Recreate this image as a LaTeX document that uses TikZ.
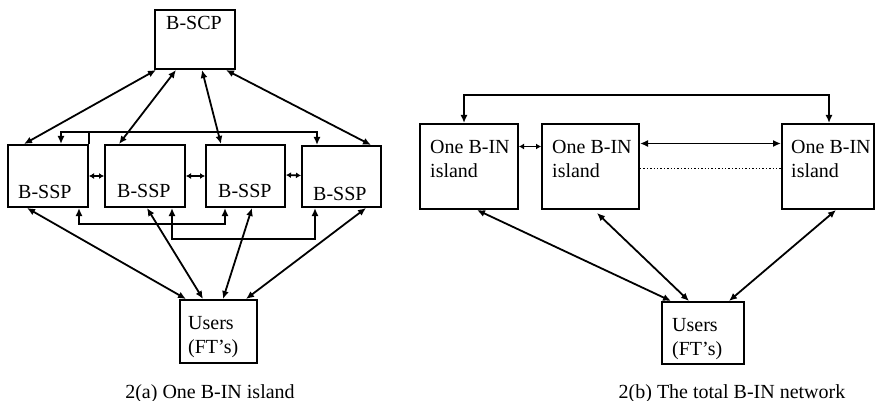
\documentclass[tikz,border=0pt]{standalone}
\usepackage{fontspec}
\setmainfont{Liberation Serif}
\usepackage{tikz}
\usetikzlibrary{positioning,arrows.meta,calc}

\begin{document}
\begin{tikzpicture}[x=1pt, y=-1pt,
  box/.style={draw, line width=2pt, inner sep=0pt},
  link/.style={line width=1.8pt, {Latex[length=8pt,width=7pt]}-{Latex[length=8pt,width=7pt]}},
  shortlink/.style={line width=1.8pt, {Latex[length=5pt,width=6pt]}-{Latex[length=5pt,width=6pt]}},
  lbl/.style={font=\fontsize{20}{23.5}\selectfont, inner sep=0pt, anchor=base west, align=left}]
  \useasboundingbox (0,0) rectangle (875,401);

  % 2(a) one island
  \node[box, minimum width=80, minimum height=59] (scp) at (195,39.5) {};
  \node[box, minimum width=80, minimum height=62] (ssp1) at (48,176) {};
  \node[box, minimum width=80, minimum height=62] (ssp2) at (145,176) {};
  \node[box, minimum width=79, minimum height=62] (ssp3) at (245.5,176) {};
  \node[box, minimum width=79, minimum height=61] (ssp4) at (341.5,176.5) {};
  \node[box, minimum width=77, minimum height=63] (usrA) at (218.5,331.5) {};
  \node[lbl] (scpT) at (166,30) {B-SCP};
  \node[lbl] (ssp1T) at (18,198) {B-SSP};
  \node[lbl] (ssp2T) at (117,197) {B-SSP};
  \node[lbl] (ssp3T) at (218,197) {B-SSP};
  \node[lbl] (ssp4T) at (313,200) {B-SSP};
  \node[lbl] (usrAT) at (188,353) {Users\\(FT's)};
  \node[lbl, anchor=base] (capA) at (210,398) {2(a) One B-IN island};

  \draw[link] ([xshift=2]scp.south west) -- ([xshift=17]ssp1.north west);
  \draw[link] ([xshift=22]scp.south west) -- ([xshift=15]ssp2.north west);
  \draw[link] ([xshift=48]scp.south west) -- ([xshift=16]ssp3.north west);
  \draw[link] ([xshift=72]scp.south west) -- ([xshift=70]ssp4.north west);

  \draw[link] ([xshift=54]ssp1.north west) -- ++(0,-12) -| ([xshift=16]ssp4.north west);
  \draw[line width=1.8pt] (ssp1.north east) -- ++(0,-12);
  \draw[shortlink] (ssp1.east) -- (ssp2.west);
  \draw[shortlink] (ssp2.east) -- (ssp3.west);
  \draw[shortlink] ([yshift=1]ssp3.east) -- ([yshift=1]ssp4.west);
  \draw[link] ([xshift=72]ssp1.south west) -- ++(0,16) -| ([xshift=20]ssp3.south west);
  \draw[link] ([xshift=68]ssp2.south west) -- ++(0,31) -| ([xshift=14]ssp4.south west);

  \draw[link] ([xshift=20]ssp1.south west) -- ([xshift=7]usrA.north west);
  \draw[link] ([xshift=43]ssp2.south west) -- ([xshift=24]usrA.north west);
  \draw[link] ([xshift=47]ssp3.south west) -- ([xshift=44]usrA.north west);
  \draw[link] ([xshift=65]ssp4.south west) -- ([xshift=67]usrA.north west);

  % 2(b) total network
  \node[box, minimum width=98, minimum height=85] (isl1) at (469,166.5) {};
  \node[box, minimum width=97, minimum height=85] (isl2) at (590.5,166.5) {};
  \node[box, minimum width=92, minimum height=85] (isl3) at (828,166.5) {};
  \node[box, minimum width=82, minimum height=62] (usrB) at (703,333) {};
  \node[lbl] (isl1T) at (430,177) {One B-IN\\island};
  \node[lbl] (isl2T) at (552,177) {One B-IN\\island};
  \node[lbl] (isl3T) at (791,177) {One B-IN\\island};
  \node[lbl] (usrBT) at (672,355) {Users\\(FT's)};
  \node[lbl, anchor=base] (capB) at (732,398) {2(b) The total B-IN network};

  \draw[link] ([xshift=45]isl1.north west) -- ++(0,-28) -| ([xshift=48]isl3.north west);
  \draw[shortlink] ([yshift=20]isl1.east) -- ([yshift=20]isl2.west);
  \draw[link] ([yshift=23]isl2.east) -- ([yshift=23]isl3.west);
  \draw[line width=1.4pt, dotted] ([yshift=-2]isl2.east) -- ([yshift=-2]isl3.west);

  \draw[link] ([xshift=58]isl1.south west) -- ([xshift=10]usrB.north west);
  \draw[link] ([xshift=56,yshift=-3]isl2.south west) -- ([xshift=28]usrB.north west);
  \draw[link] ([xshift=55]isl3.south west) -- ([xshift=68]usrB.north west);
\end{tikzpicture}
\end{document}
